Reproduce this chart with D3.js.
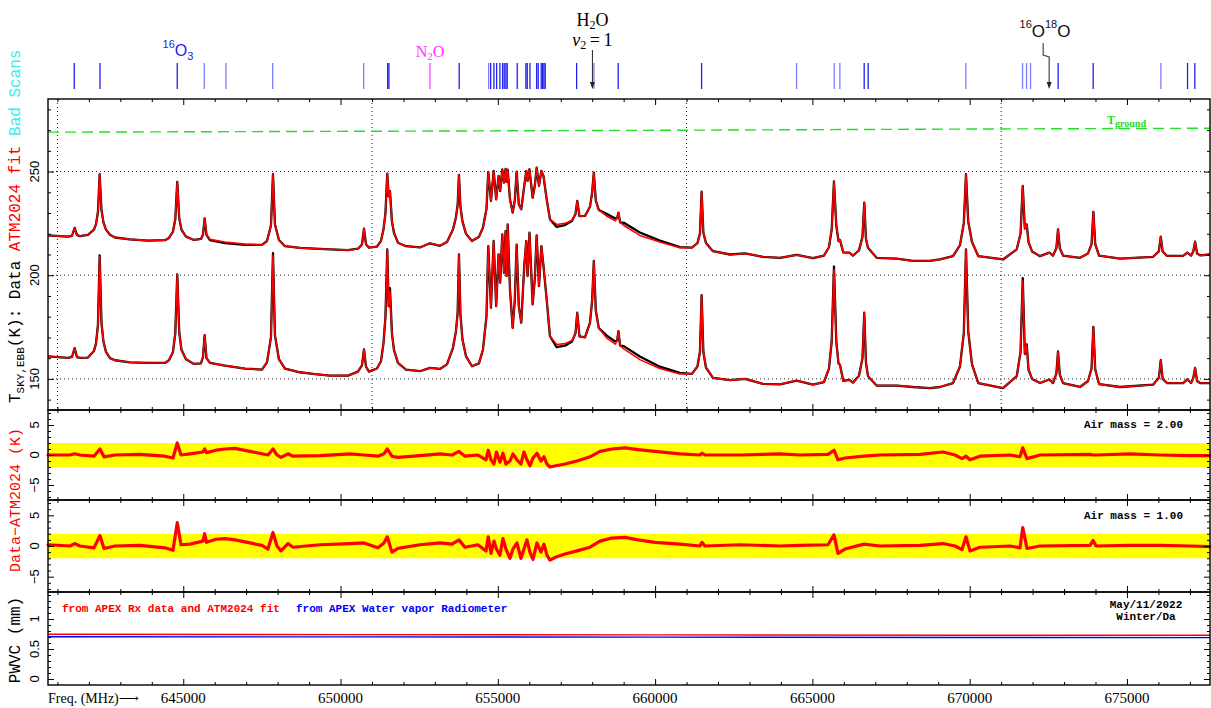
<!DOCTYPE html>
<html><head><meta charset="utf-8">
<script src="https://cdn.jsdelivr.net/npm/d3@7"></script>
<style>
html,body{margin:0;padding:0;background:#fff;}
svg{display:block;}
</style></head><body>
<svg id="chart" width="1211" height="708"></svg>
<script>
// ---- Sky spectra (K) on a common frequency grid (MHz) ----
const freqGrid = [
640700, 641335, 641462, 641548, 641621, 641716, 641971, 642161, 642225, 642288,
642342, 642400, 642463, 642543, 642670, 642829, 643306, 643878, 644418, 644545,
644673, 644746, 644809, 644872, 644943, 645086, 645340, 645563, 645626, 645680,
645738, 645849, 646326, 646961, 647502, 647661, 647788, 647852, 647915, 648042,
648233, 648710, 649187, 649664, 650236, 650554, 650681, 650745, 650808, 650904,
651158, 651285, 651364, 651428, 651485, 651530, 651571, 651634, 651698, 651825,
652080, 652525, 652843, 653161, 653383, 653574, 653669, 653723, 653764, 653812,
653876, 653987, 654178, 654400, 654528, 654639, 654696, 654782, 654868, 654947,
655024, 655075, 655141, 655195, 655246, 655278, 655313, 655386, 655472, 655539,
655599, 655666, 655745, 655840, 655904, 655945, 656006, 656107, 656174, 656235,
656308, 656384, 656451, 656553, 656657, 656870, 657134, 657357, 657468, 657525,
657595, 657770, 657929, 657999, 658052, 658115, 658210, 658455, 658735, 658792,
658834, 658888, 659006, 659515, 660151, 660787, 661169, 661346, 661425, 661479,
661534, 661616, 661839, 662380, 662857, 663429, 663970, 664500, 665018, 665368,
665527, 665613, 665686, 665760, 665830, 665877, 665982, 666173, 666290, 666481,
666592, 666649, 666703, 666767, 667043, 667679, 668197, 668738, 669056, 669470,
669692, 669813, 669883, 669953, 670074, 670274, 671060, 671496, 671617, 671687,
671754, 671814, 671871, 671983, 672237, 672533, 672650, 672755, 672809, 672866,
672968, 673508, 673763, 673874, 673932, 673992, 674113, 674781, 675830, 676014,
676075, 676135, 676275, 676784, 676921, 677039, 677109, 677166, 677230, 677325,
677640];

// air mass 2.00 — ATM2024 fit
const fitAM2 = [
219.2, 218.6, 219.0, 222.8, 219.3, 218.9, 219.5, 222.0, 224.5, 230.5,
248.7, 231.5, 225.5, 222.0, 219.5, 218.2, 217.3, 216.7, 216.9, 218.0,
221.0, 227.0, 245.0, 227.5, 222.0, 218.6, 217.0, 217.5, 219.5, 227.4,
219.5, 217.3, 216.0, 215.0, 214.6, 216.5, 224.0, 248.7, 224.5, 217.0,
214.0, 213.2, 212.8, 212.5, 212.1, 212.8, 214.8, 222.5, 215.0, 213.3,
213.8, 216.5, 222.0, 230.0, 249.0, 238.0, 240.6, 226.0, 220.5, 215.7,
214.0, 213.4, 215.4, 214.2, 216.0, 222.0, 228.0, 234.0, 248.4, 233.0,
226.0, 220.0, 216.5, 218.5, 223.0, 232.0, 249.8, 235.8, 250.3, 236.6,
247.9, 240.6, 251.1, 244.7, 251.3, 245.0, 250.9, 236.6, 230.2, 236.0,
250.0, 234.2, 231.8, 243.1, 250.3, 245.5, 251.1, 237.4, 243.0, 251.9,
243.1, 250.3, 247.9, 236.6, 227.0, 224.5, 225.0, 226.5, 229.5, 235.8,
228.5, 228.6, 233.0, 240.0, 249.5, 236.0, 231.5, 228.6, 226.3, 227.5,
230.2, 225.5, 224.0, 219.2, 216.0, 213.3, 213.3, 215.5, 220.0, 240.3,
220.5, 215.5, 211.6, 210.0, 210.5, 208.9, 208.4, 209.8, 208.3, 209.5,
213.5, 222.0, 245.2, 224.0, 216.5, 217.0, 211.0, 210.9, 209.5, 212.0,
218.5, 235.0, 217.5, 213.3, 208.4, 208.0, 206.9, 206.9, 207.6, 209.2,
214.5, 225.0, 248.7, 226.0, 216.0, 209.2, 207.6, 212.5, 220.0, 243.1,
222.5, 224.5, 216.0, 211.5, 209.2, 210.9, 209.5, 213.0, 222.1, 213.0,
209.5, 208.4, 210.5, 215.0, 230.5, 215.0, 209.5, 208.0, 208.9, 211.5,
218.6, 211.5, 209.3, 209.3, 210.9, 209.5, 211.5, 216.2, 210.5, 209.6,
210.0];

// air mass 2.00 — measured sky
const dataAM2 = [
219.2, 218.6, 219.0, 222.8, 219.3, 218.9, 219.5, 222.0, 224.5, 230.5,
248.7, 231.5, 225.5, 222.0, 219.5, 218.2, 217.3, 216.7, 216.9, 218.0,
221.0, 227.0, 245.0, 227.5, 222.0, 218.6, 217.0, 217.5, 219.5, 227.4,
219.5, 216.9, 215.5, 214.6, 214.6, 216.5, 224.0, 248.7, 224.5, 217.0,
214.0, 213.2, 212.8, 212.5, 212.1, 212.8, 214.8, 222.5, 215.0, 213.3,
213.8, 216.5, 222.0, 230.0, 249.0, 238.0, 240.6, 226.0, 220.5, 215.7,
214.0, 213.4, 215.4, 214.2, 216.0, 222.0, 228.0, 234.0, 248.4, 233.0,
226.0, 220.0, 216.5, 218.5, 223.0, 232.0, 249.8, 235.8, 250.3, 236.6,
247.9, 240.6, 251.1, 244.7, 251.3, 245.0, 250.9, 236.6, 230.2, 236.0,
250.0, 234.2, 231.8, 243.1, 250.3, 245.5, 251.1, 237.4, 243.0, 251.9,
243.1, 250.3, 247.9, 236.6, 227.0, 223.3, 224.2, 226.2, 229.5, 235.8,
228.5, 228.6, 233.0, 240.0, 249.5, 236.0, 231.5, 229.6, 227.4, 227.5,
230.2, 225.5, 225.3, 220.6, 216.7, 213.6, 213.3, 215.5, 220.0, 240.3,
220.5, 215.5, 211.6, 210.0, 210.5, 208.9, 208.4, 209.8, 208.3, 209.5,
213.5, 222.0, 245.2, 224.0, 216.5, 217.0, 211.0, 210.9, 209.5, 212.0,
218.5, 235.0, 217.5, 213.3, 208.4, 208.0, 206.9, 206.9, 207.6, 209.2,
214.5, 225.0, 248.7, 226.0, 216.0, 209.2, 207.6, 212.5, 220.0, 243.1,
222.5, 224.5, 216.0, 211.5, 209.2, 210.9, 209.5, 213.0, 222.1, 213.0,
209.5, 208.4, 210.5, 215.0, 230.5, 215.0, 209.5, 208.0, 208.9, 211.5,
218.6, 211.5, 209.3, 209.3, 210.9, 209.5, 211.5, 216.2, 210.5, 209.6,
210.0];

// air mass 1.00 — ATM2024 fit
const fitAM1 = [
160.9, 160.1, 160.6, 164.8, 160.5, 160.1, 160.3, 163.5, 167.0, 176.0,
208.9, 177.0, 168.0, 163.0, 160.0, 159.0, 158.0, 157.7, 157.7, 159.0,
163.0, 172.0, 200.4, 172.5, 164.0, 159.5, 157.2, 157.5, 160.5, 171.1,
160.0, 157.7, 156.4, 155.0, 154.5, 158.0, 170.0, 209.6, 171.0, 159.5,
155.0, 153.2, 152.3, 151.6, 151.6, 153.5, 156.5, 164.2, 156.0, 153.5,
155.0, 158.5, 167.0, 180.0, 212.5, 185.0, 192.3, 172.0, 164.0, 157.7,
154.5, 153.7, 155.3, 154.8, 157.0, 165.0, 173.0, 182.0, 210.1, 181.0,
169.0, 161.0, 156.1, 157.5, 164.2, 180.2, 214.0, 184.3, 216.5, 185.1,
210.1, 196.4, 219.7, 201.2, 221.3, 199.6, 224.5, 193.2, 174.6, 188.0,
214.8, 185.1, 177.1, 204.5, 216.5, 199.6, 220.5, 185.9, 198.0, 219.2,
194.7, 214.0, 204.5, 188.3, 170.6, 166.6, 167.0, 168.5, 172.0, 181.9,
170.5, 170.0, 177.0, 188.0, 206.9, 183.0, 174.5, 169.8, 166.8, 168.5,
173.0, 166.0, 164.5, 159.3, 155.0, 152.4, 152.4, 156.0, 163.0, 190.4,
163.0, 155.5, 150.5, 149.4, 150.0, 147.6, 147.4, 149.2, 147.2, 148.5,
155.0, 168.0, 202.8, 168.0, 157.5, 156.8, 149.0, 149.5, 148.2, 151.5,
160.0, 181.9, 158.0, 151.3, 146.8, 146.8, 146.1, 145.6, 146.1, 148.0,
156.0, 172.0, 212.5, 173.0, 157.0, 148.0, 145.6, 151.3, 163.0, 197.2,
162.0, 166.6, 154.5, 150.0, 148.0, 149.7, 148.0, 152.5, 163.3, 152.0,
148.0, 146.1, 149.0, 155.0, 175.1, 154.5, 147.5, 146.1, 147.2, 150.5,
159.0, 150.0, 148.0, 148.0, 149.8, 148.0, 150.5, 155.3, 149.0, 148.0,
148.0];

// air mass 1.00 — measured sky
const dataAM1 = [
160.9, 160.1, 160.6, 164.8, 160.5, 160.1, 160.3, 163.5, 167.0, 176.0,
209.6, 177.0, 168.0, 163.0, 160.0, 159.0, 158.0, 157.7, 157.7, 159.0,
163.0, 172.0, 200.4, 172.5, 164.0, 159.5, 157.2, 157.5, 160.5, 171.1,
160.0, 157.7, 156.4, 155.0, 154.5, 158.0, 170.0, 210.6, 171.0, 159.5,
155.0, 153.2, 152.3, 151.6, 151.6, 153.5, 156.5, 164.2, 156.0, 153.5,
155.0, 158.5, 167.0, 180.0, 212.5, 185.0, 193.8, 172.0, 164.0, 157.7,
154.5, 153.7, 155.3, 154.8, 157.0, 165.0, 173.0, 182.0, 210.1, 181.0,
169.0, 161.0, 156.1, 157.5, 164.2, 180.2, 214.0, 184.3, 216.5, 185.1,
210.1, 196.4, 219.7, 201.2, 221.3, 199.6, 224.5, 193.2, 174.6, 188.0,
214.8, 185.1, 177.1, 204.5, 216.5, 199.6, 220.5, 185.9, 198.0, 219.2,
194.7, 214.0, 204.5, 188.3, 170.6, 165.3, 166.0, 168.0, 172.0, 181.9,
170.5, 170.0, 177.0, 188.0, 206.9, 183.0, 174.5, 171.0, 168.0, 168.5,
173.0, 166.0, 165.8, 160.8, 155.9, 152.9, 152.4, 156.0, 163.0, 190.4,
163.0, 155.5, 150.5, 149.4, 150.0, 147.6, 147.4, 149.2, 147.2, 148.5,
155.0, 168.0, 204.2, 168.0, 157.5, 156.8, 149.0, 149.5, 148.2, 151.5,
160.0, 181.9, 158.0, 151.3, 146.8, 146.8, 146.1, 145.6, 146.1, 148.0,
156.0, 172.0, 212.5, 173.0, 157.0, 148.0, 145.6, 151.3, 163.0, 198.6,
162.0, 166.6, 154.5, 150.0, 148.0, 149.7, 148.0, 152.5, 163.3, 152.0,
148.0, 146.1, 149.0, 155.0, 175.1, 154.5, 147.5, 146.1, 147.2, 150.5,
159.0, 150.0, 148.0, 148.0, 149.8, 148.0, 150.5, 155.3, 149.0, 148.0,
148.0];

// ground temperature (K)
const tgroundFreq = [640700, 650000, 660000, 670000, 677640];
const tgroundK = [269.0, 269.4, 269.9, 270.5, 270.9];

// ---- Residuals Data − ATM2024 (K) ----
const resFreq = [
640700, 641398, 641548, 641716, 642161, 642352, 642479, 642829, 643624, 644418,
644673, 644809, 644927, 645213, 645626, 645680, 645738, 646040, 646326, 646644,
647120, 647502, 647693, 647852, 647979, 648106, 648329, 648488, 649346, 650300,
650745, 651190, 651380, 651485, 651634, 651825, 652525, 653161, 653542, 653764,
653955, 654368, 654623, 654696, 654782, 654876, 654956, 655067, 655163, 655258,
655386, 655481, 655608, 655735, 655831, 655926, 656021, 656117, 656244, 656371,
656467, 656562, 656657, 656848, 657134, 657516, 657929, 658247, 658629, 659042,
659455, 659996, 660790, 661425, 661489, 661584, 662697, 663968, 664604, 665495,
665686, 665813, 666035, 666639, 667148, 668420, 669151, 669533, 669756, 669883,
670010, 670328, 671282, 671600, 671687, 671823, 672237, 673826, 673922, 674018,
675099, 676053, 677007, 677640];

const residualAM2 = [
0.0, 0.0, 0.2, 0.0, -0.2, 1.0, -0.3, 0.0, 0.1, -0.2,
-0.5, 2.0, 0.0, 0.2, 0.5, 1.0, 0.4, 0.8, 1.0, 1.1,
0.6, 0.2, 0.0, 1.0, 0.0, -0.4, 0.2, -0.2, -0.1, 0.2,
0.0, -0.2, 0.2, 1.0, -0.2, -0.4, -0.1, 0.2, 0.0, 0.6,
-0.2, 0.0, -0.8, 0.8, -0.8, -1.5, 0.5, -1.2, 0.3, -1.5,
-1.0, 0.2, -0.8, -1.5, 0.5, -0.8, -1.8, -0.5, 0.3, -1.0,
-0.3, -1.5, -2.0, -1.8, -1.5, -1.0, -0.3, 0.6, 1.0, 1.2,
0.9, 0.6, 0.2, 0.0, 0.3, 0.0, 0.0, 0.2, 0.0, 0.1,
0.8, -0.8, -0.5, -0.2, 0.0, 0.1, 0.5, 0.0, -0.6, -0.2,
-0.8, -0.2, 0.0, -0.3, 1.2, -0.6, 0.0, 0.1, 0.0, 0.0,
0.2, 0.0, -0.1, -0.1];

const residualAM1 = [
0.2, 0.0, 0.4, 0.0, -0.3, 1.7, -0.4, 0.0, 0.1, -0.3,
-0.7, 3.8, 0.2, 0.3, 0.8, 2.0, 0.6, 1.1, 1.2, 1.0,
0.5, 0.1, -0.5, 2.2, 0.0, -0.8, 0.4, -0.2, 0.2, 0.4,
0.5, -0.3, 0.5, 1.5, -1.0, -0.4, 0.2, 0.5, 0.3, 1.0,
-0.2, 0.2, -0.8, 1.5, -1.2, 0.8, -0.5, -1.5, 1.2, -0.5,
-2.0, -0.5, 0.5, -2.0, -0.5, 1.0, -1.0, -2.2, 0.5, -1.0,
0.3, -1.5, -2.3, -1.8, -1.3, -0.8, -0.2, 0.8, 1.3, 1.4,
1.0, 0.6, 0.3, 0.0, 0.6, 0.0, 0.2, 0.0, 0.1, 0.2,
1.8, -1.2, -0.5, 0.3, 0.0, 0.1, 0.4, 0.0, -0.6, 1.5,
-0.8, -0.2, 0.0, -0.3, 3.0, -0.4, 0.0, 0.1, 0.9, 0.0,
0.1, 0.1, 0.0, -0.1];

const residualBand = [-2, 2];

// ---- Precipitable water vapour (mm) ----
const pwvcFreq = [640700, 650000, 660000, 670000, 677640];
const pwvcRx  = [0.745, 0.740, 0.735, 0.730, 0.728];
const pwvcWvr = [0.705, 0.702, 0.698, 0.692, 0.689];

// ---- Line catalogue markers (MHz) ----
const o3Strong = [641535, 642352, 644809, 651497, 651539, 653773, 654771, 654876, 654962,
  655067, 655152, 655203, 655257, 655299, 655617, 655893, 655935, 656021, 656233, 656284,
  656380, 656424, 656466, 656507, 657505, 658827, 661478, 666647, 666774, 672813, 673926,
  676926, 677158];
const o3Weak = [645668, 646357, 647842, 650734, 654708, 658055, 664498, 665693, 665874,
  669879, 671681, 671808, 671935, 676078];
const n2oLines = [652842];
const h2oV2Line = 658007;
const o16o18Line = 672527;

// ---- Axes ----
const xMajor = [645000, 650000, 655000, 660000, 665000, 670000, 675000];
const xMinor = d3.range(641000, 678000, 1000).filter(v => v % 5000 !== 0);
const bandEdges = [641000, 651000, 661000, 671000];
const mainMajor = [150, 200, 250];
const mainMinor = [140, 160, 170, 180, 190, 210, 220, 230, 240, 260, 270, 280];
const resMajor = [-5, 0, 5];
const resMinor = [-7, -6, -4, -3, -2, -1, 1, 2, 3, 4, 6, 7];
const pwMajor = [0, 0.5, 1];
const pwMinor = [0.1, 0.2, 0.3, 0.4, 0.6, 0.7, 0.8, 0.9, 1.1, 1.2, 1.3, 1.4];

const svg = d3.select('#chart');
const X0 = 48, X1 = 1210;
const x = d3.scaleLinear().domain([640700, 677640]).range([X0, X1]);
const yMain = d3.scaleLinear().domain([135, 285]).range([410, 99]);
const yR1 = d3.scaleLinear().domain([-7.5, 7.5]).range([500, 410]);
const yR2 = d3.scaleLinear().domain([-7.5, 7.5]).range([592, 500]);
const yPw = d3.scaleLinear().domain([-0.1, 1.45]).range([685, 592]);

const zip = (fs, vs) => fs.map((f, i) => [f, vs[i]]);
const MONO = "'Liberation Mono', 'DejaVu Sans Mono', monospace";
const SERIF = "'Liberation Serif', 'DejaVu Serif', serif";
const SANS = "'Liberation Sans', Arial, sans-serif";

// yellow ±2 K bands
[yR1, yR2].forEach(ys => {
  svg.append('rect')
    .attr('x', X0).attr('width', X1 - X0)
    .attr('y', ys(residualBand[1])).attr('height', ys(residualBand[0]) - ys(residualBand[1]))
    .attr('fill', '#ffff00');
});

// dotted grid in the spectrum panel
const grid = svg.append('g').attr('stroke', '#222').attr('stroke-width', 1).attr('stroke-dasharray', '1,3');
mainMajor.forEach(v => grid.append('line').attr('x1', X0).attr('x2', X1).attr('y1', yMain(v)).attr('y2', yMain(v)));
bandEdges.forEach(f => grid.append('line').attr('x1', x(f)).attr('x2', x(f)).attr('y1', 99).attr('y2', 410));

// ground temperature
svg.append('path')
  .datum(zip(tgroundFreq, tgroundK))
  .attr('d', d3.line().x(d => x(d[0])).y(d => yMain(d[1])))
  .attr('fill', 'none').attr('stroke', '#22e022').attr('stroke-width', 1.4).attr('stroke-dasharray', '11,6');

// spectra
const specLine = d3.line().x(d => x(d[0])).y(d => yMain(d[1]));
[[dataAM2, fitAM2], [dataAM1, fitAM1]].forEach(([dat, fit]) => {
  svg.append('path').datum(zip(freqGrid, dat)).attr('d', specLine)
    .attr('fill', 'none').attr('stroke', '#000').attr('stroke-width', 2.3).attr('stroke-linejoin', 'round');
  svg.append('path').datum(zip(freqGrid, fit)).attr('d', specLine)
    .attr('fill', 'none').attr('stroke', '#ff0000').attr('stroke-width', 1.6).attr('stroke-linejoin', 'round');
});

// residuals
[[yR1, residualAM2], [yR2, residualAM1]].forEach(([ys, vals]) => {
  svg.append('path').datum(zip(resFreq, vals))
    .attr('d', d3.line().x(d => x(d[0])).y(d => ys(d[1])))
    .attr('fill', 'none').attr('stroke', '#ff0000').attr('stroke-width', 3.2)
    .attr('stroke-linejoin', 'round').attr('stroke-linecap', 'round');
});

// PWVC
[[pwvcRx, '#ff0000'], [pwvcWvr, '#0000ff']].forEach(([vals, col]) => {
  svg.append('path').datum(zip(pwvcFreq, vals))
    .attr('d', d3.line().x(d => x(d[0])).y(d => yPw(d[1])))
    .attr('fill', 'none').attr('stroke', col).attr('stroke-width', 1.4);
});

// panel frames and ticks
function ticks(g) { g.select('.domain').remove(); g.selectAll('line').attr('stroke', '#000').attr('stroke-width', 1); }
const panelDefs = [[yMain, 99, 410, mainMajor, mainMinor], [yR1, 410, 500, resMajor, resMinor],
                   [yR2, 500, 592, resMajor, resMinor], [yPw, 592, 685, pwMajor, pwMinor]];
panelDefs.forEach(([ys, top, bot, maj, min]) => {
  svg.append('rect').attr('x', X0).attr('y', top).attr('width', X1 - X0).attr('height', bot - top)
    .attr('fill', 'none').attr('stroke', '#000').attr('stroke-width', 1.4);
  [[xMajor, 6], [xMinor, 3]].forEach(([vals, len]) => {
    svg.append('g').attr('transform', `translate(0,${top})`)
      .call(d3.axisBottom(x).tickValues(vals).tickSize(len).tickFormat('')).call(ticks);
    svg.append('g').attr('transform', `translate(0,${bot})`)
      .call(d3.axisTop(x).tickValues(vals).tickSize(len).tickFormat('')).call(ticks);
  });
  [[maj, 6], [min, 3]].forEach(([vals, len]) => {
    svg.append('g').attr('transform', `translate(${X0},0)`)
      .call(d3.axisRight(ys).tickValues(vals).tickSize(len).tickFormat('')).call(ticks);
    svg.append('g').attr('transform', `translate(${X1},0)`)
      .call(d3.axisLeft(ys).tickValues(vals).tickSize(len).tickFormat('')).call(ticks);
  });
  maj.forEach(v => {
    svg.append('text').attr('transform', `translate(39,${ys(v)}) rotate(-90)`)
      .attr('text-anchor', 'middle').attr('font-family', SANS).attr('font-size', 13)
      .text(String(v).replace('-', '\u2212'));
  });
});

// x labels
xMajor.forEach(v => {
  svg.append('text').attr('x', x(v)).attr('y', 703).attr('text-anchor', 'middle')
    .attr('font-family', SERIF).attr('font-size', 15).text(v);
});
svg.append('text').attr('x', 48).attr('y', 703).attr('font-family', SERIF).attr('font-size', 14)
  .text('Freq. (MHz)\u27F6');

// y titles
const t1 = svg.append('text').attr('transform', 'translate(20,403) rotate(-90)')
  .attr('font-family', MONO).attr('font-size', 16);
t1.append('tspan').text('T');
t1.append('tspan').attr('font-size', 11).attr('dy', 4).text('SKY,EBB');
t1.append('tspan').attr('dy', -4).text('(K): Data ');
t1.append('tspan').attr('fill', '#ff0000').text('ATM2024 fit ');
t1.append('tspan').attr('fill', '#33eeee').text('Bad Scans');

svg.append('text').attr('transform', 'translate(20,500) rotate(-90)').attr('text-anchor', 'middle')
  .attr('font-family', MONO).attr('font-size', 15).attr('fill', '#ff0000').text('Data\u2212ATM2024 (K)');
svg.append('text').attr('transform', 'translate(20,640) rotate(-90)').attr('text-anchor', 'middle')
  .attr('font-family', MONO).attr('font-size', 16).attr('fill', '#000').text('PWVC (mm)');

// panel annotations
const ann = (xp, yp, txt, col, anchor) => svg.append('text').attr('x', xp).attr('y', yp)
  .attr('font-family', MONO).attr('font-weight', 'bold').attr('font-size', 11)
  .attr('fill', col).attr('text-anchor', anchor || 'start').text(txt);
ann(1183, 428, 'Air mass = 2.00', '#000', 'end');
ann(1183, 519, 'Air mass = 1.00', '#000', 'end');
ann(1146, 608, 'May/11/2022', '#000', 'middle');
ann(1146, 620, 'Winter/Da', '#000', 'middle');
ann(62, 612, 'from APEX Rx data and ATM2024 fit', '#ff0000');
ann(296, 612, 'from APEX Water vapor Radiometer', '#0000ff');

const tg = svg.append('text').attr('x', 1107).attr('y', 124).attr('fill', '#22dd22')
  .attr('font-family', SERIF).attr('font-weight', 'bold').attr('font-size', 12);
tg.append('tspan').text('T');
tg.append('tspan').attr('font-size', 10).attr('dy', 3).text('ground');

// catalogue markers
const marks = svg.append('g').attr('stroke-width', 1.3);
const markLine = (f, col) => marks.append('line').attr('x1', x(f)).attr('x2', x(f))
  .attr('y1', 63).attr('y2', 89).attr('stroke', col);
o3Weak.forEach(f => markLine(f, '#7c7cff'));
o3Strong.forEach(f => markLine(f, '#2020f0'));
n2oLines.forEach(f => markLine(f, '#ff44ff'));

// arrows
const arrowHead = (xp, yp) => svg.append('path')
  .attr('d', `M${xp - 2.5},${yp - 7}L${xp + 2.5},${yp - 7}L${xp},${yp}Z`).attr('fill', '#222');
const xh = x(h2oV2Line);
svg.append('line').attr('x1', xh).attr('x2', xh).attr('y1', 50).attr('y2', 84)
  .attr('stroke', '#222').attr('stroke-width', 1);
arrowHead(xh, 89);
const xo = x(o16o18Line);
svg.append('path').attr('d', `M${xo - 6},43V55L${xo},57V84`).attr('fill', 'none')
  .attr('stroke', '#444').attr('stroke-width', 1.2);
arrowHead(xo, 89);

// molecule labels
const h2o = svg.append('text').attr('x', xh).attr('y', 26).attr('text-anchor', 'middle')
  .attr('font-family', SERIF).attr('font-size', 18);
h2o.append('tspan').text('H');
h2o.append('tspan').attr('font-size', 12).attr('dy', 3).text('2');
h2o.append('tspan').attr('dy', -3).text('O');
const nu = svg.append('text').attr('x', xh).attr('y', 46).attr('text-anchor', 'middle')
  .attr('font-family', SERIF).attr('font-size', 18);
nu.append('tspan').attr('font-style', 'italic').text('\u03BD');
nu.append('tspan').attr('font-size', 12).attr('dy', 3).text('2');
nu.append('tspan').attr('dy', -3).text('\u2009=\u20091');

const n2o = svg.append('text').attr('x', x(n2oLines[0])).attr('y', 57).attr('text-anchor', 'middle')
  .attr('font-family', SERIF).attr('font-size', 16).attr('fill', '#ff33ff');
n2o.append('tspan').text('N');
n2o.append('tspan').attr('font-size', 11).attr('dy', 3).text('2');
n2o.append('tspan').attr('dy', -3).text('O');

const o3 = svg.append('text').attr('x', 178).attr('y', 56).attr('text-anchor', 'middle')
  .attr('font-family', SANS).attr('font-size', 16).attr('fill', '#1a1aee');
o3.append('tspan').attr('font-size', 11).attr('dy', -8).text('16');
o3.append('tspan').attr('dy', 8).text('O');
o3.append('tspan').attr('font-size', 11).attr('dy', 4).text('3');

const oo = svg.append('text').attr('x', 1045).attr('y', 37).attr('text-anchor', 'middle')
  .attr('font-family', SANS).attr('font-size', 17).attr('fill', '#111');
oo.append('tspan').attr('font-size', 11).attr('dy', -9).text('16');
oo.append('tspan').attr('dy', 9).text('O');
oo.append('tspan').attr('font-size', 11).attr('dy', -9).text('18');
oo.append('tspan').attr('dy', 9).text('O');
</script>
</body></html>
